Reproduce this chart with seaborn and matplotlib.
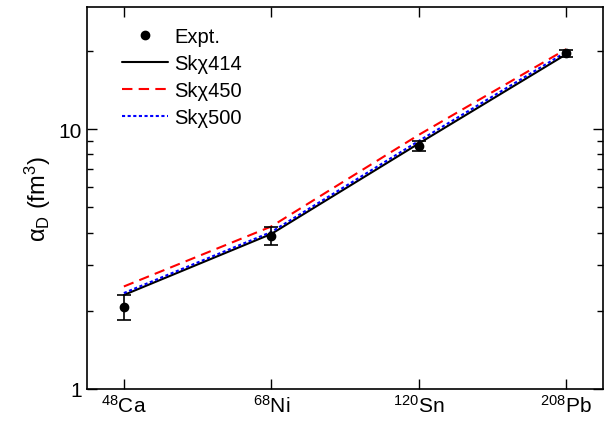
import matplotlib
matplotlib.use("Agg")
import matplotlib.pyplot as plt
import seaborn as sns
import pandas as pd
import numpy as np
from matplotlib.lines import Line2D
from matplotlib.ticker import LogLocator, NullFormatter, FixedLocator, FixedFormatter

nuclei = ["$^{48}$Ca", "$^{68}$Ni", "$^{120}$Sn", "$^{208}$Pb"]
expt = [2.07, 3.88, 8.59, 19.6]
expt_err = [0.22, 0.31, 0.37, 0.6]
sk414 = [2.30, 3.95, 8.80, 19.4]
sk450 = [2.48, 4.22, 9.50, 20.3]
sk500 = [2.34, 4.02, 9.00, 19.8]

sns.set_theme(style="ticks")
plt.rcParams['font.family'] = ['Liberation Sans', 'DejaVu Sans']
plt.rcParams['mathtext.fontset'] = 'custom'
plt.rcParams['mathtext.rm'] = 'Liberation Sans'
plt.rcParams['mathtext.it'] = 'Liberation Sans:italic'
plt.rcParams['text.color'] = 'black'
plt.rcParams['axes.labelcolor'] = 'black'
plt.rcParams['xtick.color'] = 'black'
plt.rcParams['ytick.color'] = 'black'

x = np.arange(len(nuclei))
df = pd.DataFrame({"x": np.tile(x, 3),
                   "y": sk414 + sk450 + sk500,
                   "model": ["Skχ414"] * 4 + ["Skχ450"] * 4 + ["Skχ500"] * 4})

fig = plt.figure(figsize=(6.05, 4.39), dpi=100)
ax = fig.add_axes([87/605, 49/439, 516/605, 382/439])

ax.errorbar(x, expt, yerr=expt_err, fmt="o", color="black", ms=6, capsize=5,
            elinewidth=1.2, capthick=1.2, zorder=5)
sns.lineplot(data=df, x="x", y="y", hue="model", style="model",
             palette={"Skχ414": "black", "Skχ450": "red", "Skχ500": "blue"},
             dashes={"Skχ414": "", "Skχ450": (5, 3), "Skχ500": (1.5, 1.2)},
             linewidth=1.5, ax=ax)

ax.set_yscale("log")
ax.set_ylim(1, 29.5)
ax.set_xlim(-0.25, 3.25)
ax.yaxis.set_major_locator(FixedLocator([1, 10]))
ax.yaxis.set_major_formatter(FixedFormatter(["1", "10"]))
ax.yaxis.set_minor_locator(LogLocator(base=10, subs=np.arange(2, 10)))
ax.yaxis.set_minor_formatter(NullFormatter())
ax.set_xticks(x)
ax.set_xticklabels(nuclei)
ax.set_xlabel("")
ax.set_ylabel(r"α$_\mathrm{D}$ (fm$^3$)", fontsize=17)
ax.tick_params(axis="both", which="both", direction="in", top=True, right=True,
               labelsize=15, color="black", width=1)
ax.tick_params(which="major", length=7)
ax.tick_params(which="minor", length=4)
for s in ax.spines.values():
    s.set_linewidth(1.2)
    s.set_color("black")

h, l = ax.get_legend_handles_labels()
expt_handle = Line2D([], [], marker="o", ms=6, color="black", linestyle="none")
handles = [expt_handle] + [h[l.index(k)] for k in ["Skχ414", "Skχ450", "Skχ500"]]
labels = ["Expt.", "Skχ414", "Skχ450", "Skχ500"]
ax.legend(handles, labels, loc="upper left",
          frameon=False, fontsize=14.5, handlelength=2.3, handletextpad=0.3,
          labelspacing=0.4, bbox_to_anchor=(0.04, 0.985), borderaxespad=0.3)

fig.savefig("out.png", dpi=100)
